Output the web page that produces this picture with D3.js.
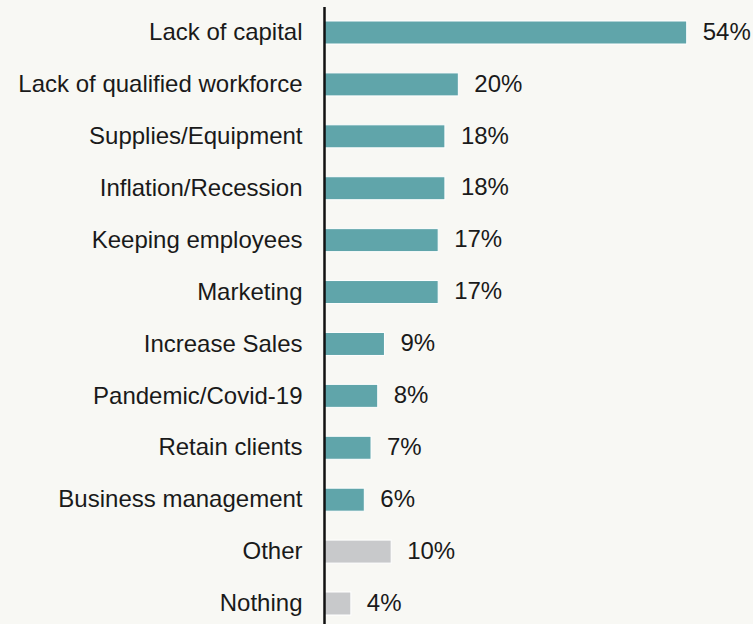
<!DOCTYPE html>
<html>
<head>
<meta charset="utf-8">
<script src="https://cdn.jsdelivr.net/npm/d3@7"></script>
<style>
  html, body { margin: 0; padding: 0; background: #f8f8f4; }
  svg { display: block; }
  text { font-family: "Liberation Sans", Arial, Helvetica, sans-serif; fill: #1a1a1a; }
</style>
</head>
<body>
<svg id="chart" width="753" height="624"></svg>
<script>
// Biggest business challenges, share of respondents (%)
const categories = [
  "Lack of capital",
  "Lack of qualified workforce",
  "Supplies/Equipment",
  "Inflation/Recession",
  "Keeping employees",
  "Marketing",
  "Increase Sales",
  "Pandemic/Covid-19",
  "Retain clients",
  "Business management",
  "Other",
  "Nothing"
];
const values = [54, 20, 18, 18, 17, 17, 9, 8, 7, 6, 10, 4];
// Last two answers are not specific challenges and are shown in grey
const groups = ["challenge", "challenge", "challenge", "challenge", "challenge", "challenge",
                "challenge", "challenge", "challenge", "challenge", "neutral", "neutral"];

const colors = { challenge: "#60a5aa", neutral: "#c8c9cb" };

const svg = d3.select("#chart");
const W = 753, H = 624;
const fontSize = "24px";

const x = d3.scaleLinear().domain([0, 54]).range([324, 686.7]);
const y = d3.scalePoint().domain(categories).range([32.5, 603.5]);
const barH = 23;

const rows = categories.map((c, i) => ({ c, v: values[i], g: groups[i] }));

// Bars
svg.append("g").selectAll("rect")
  .data(rows)
  .join("rect")
  .attr("x", x(0))
  .attr("y", d => y(d.c) - barH / 2)
  .attr("width", d => x(d.v) - x(0))
  .attr("height", barH)
  .attr("fill", d => colors[d.g])
  .attr("stroke", "#ffffff")
  .attr("stroke-width", 1);

// Value labels
svg.append("g").selectAll("text")
  .data(rows)
  .join("text")
  .attr("x", d => x(d.v) + 16)
  .attr("y", d => y(d.c))
  .attr("dy", "0.3em")
  .style("font-size", fontSize)
  .text(d => d.v + "%");

// Category axis
const axis = svg.append("g")
  .attr("transform", `translate(${x(0) + 0.5},0)`)
  .call(d3.axisLeft(y).tickSize(0).tickPadding(22));
axis.select(".domain").remove();
axis.selectAll("text")
  .attr("dy", "0.3em")
  .style("font-size", fontSize)
  .style("font-family", '"Liberation Sans", Arial, Helvetica, sans-serif')
  .attr("fill", "#1a1a1a");

// Vertical baseline
svg.append("line")
  .attr("x1", x(0) + 0.5).attr("x2", x(0) + 0.5)
  .attr("y1", 7).attr("y2", H)
  .attr("stroke", "#111111")
  .attr("stroke-width", 2.5);
</script>
</body>
</html>
